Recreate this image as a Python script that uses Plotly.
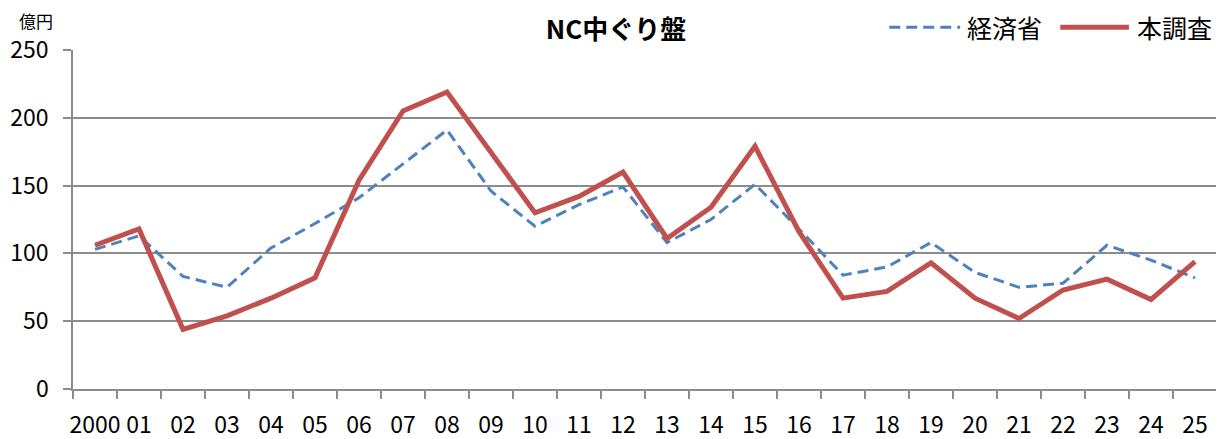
import plotly.graph_objects as go

categories = ["2000", "01", "02", "03", "04", "05", "06", "07", "08", "09", "10", "11", "12",
              "13", "14", "15", "16", "17", "18", "19", "20", "21", "22", "23", "24", "25"]
meti = [103, 113, 83, 75, 104, 122, 141, 166, 191, 146, 120, 136, 149,
        108, 125, 151, 118, 84, 90, 108, 86, 75, 78, 106, 95, 82]
survey = [106, 118, 44, 54, 67, 82, 154, 205, 219, 175, 130, 142, 160,
          111, 134, 179, 116, 67, 72, 93, 67, 52, 73, 81, 66, 94]
y_ticks = [0, 50, 100, 150, 200, 250]

BLUE = "#4F81BD"
RED = "#C0504D"
GRID = "#8C8C8C"
FONT = "Noto Sans CJK JP, Liberation Sans, sans-serif"

fig = go.Figure()
fig.add_trace(go.Scatter(x=categories, y=meti, mode="lines", name="経済省",
                         line=dict(color=BLUE, width=3, dash="11px,6px")))
fig.add_trace(go.Scatter(x=categories, y=survey, mode="lines", name="本調査",
                         line=dict(color=RED, width=5)))

# page has an 8px body margin, so the figure is sized to fit the 1224x439 window
fig.update_layout(
    width=1216, height=431,
    margin=dict(l=65, r=7, t=42, b=50, autoexpand=False),
    paper_bgcolor="white", plot_bgcolor="white",
    showlegend=False,
    font=dict(family=FONT, size=23, color="black"),
    title=dict(text="<b>NC中ぐり盤</b>", x=0.5, xanchor="center", y=0.949, yanchor="middle",
               font=dict(family=FONT, size=26, color="black")),
    xaxis=dict(type="category", showgrid=False, showline=True, linecolor=GRID, linewidth=1.5,
               ticks="outside", ticklen=8, tickcolor=GRID, tickwidth=1.5, tickson="boundaries",
               tickfont=dict(size=23), tickangle=0, automargin=False, ticklabelstandoff=15,
               range=[-0.5, len(categories) - 0.5]),
    yaxis=dict(range=[0, 250], tickvals=y_ticks, showgrid=True, gridcolor=GRID, gridwidth=1.5,
               showline=True, linecolor=GRID, linewidth=1.5, ticks="outside", ticklen=8,
               tickcolor=GRID, tickwidth=1.5, tickfont=dict(size=23), ticklabelstandoff=10,
               automargin=False, zeroline=False),
)

# "億円" unit label
fig.add_annotation(text="億円", xref="paper", yref="paper", x=-0.049, y=1.086,
                   xanchor="left", yanchor="middle", showarrow=False,
                   font=dict(family=FONT, size=17))

# Manual legend
fig.add_shape(type="line", xref="paper", yref="paper", x0=0.7135, x1=0.7755, y0=1.067, y1=1.067,
              line=dict(color=BLUE, width=3, dash="11px,6px"))
fig.add_annotation(text="経済省", xref="paper", yref="paper", x=0.780, y=1.067,
                   xanchor="left", yanchor="middle", showarrow=False,
                   font=dict(family=FONT, size=25))
fig.add_shape(type="line", xref="paper", yref="paper", x0=0.863, x1=0.923, y0=1.067, y1=1.067,
              line=dict(color=RED, width=5))
fig.add_annotation(text="本調査", xref="paper", yref="paper", x=0.928, y=1.067,
                   xanchor="left", yanchor="middle", showarrow=False,
                   font=dict(family=FONT, size=25))

fig.write_html("out.html")
